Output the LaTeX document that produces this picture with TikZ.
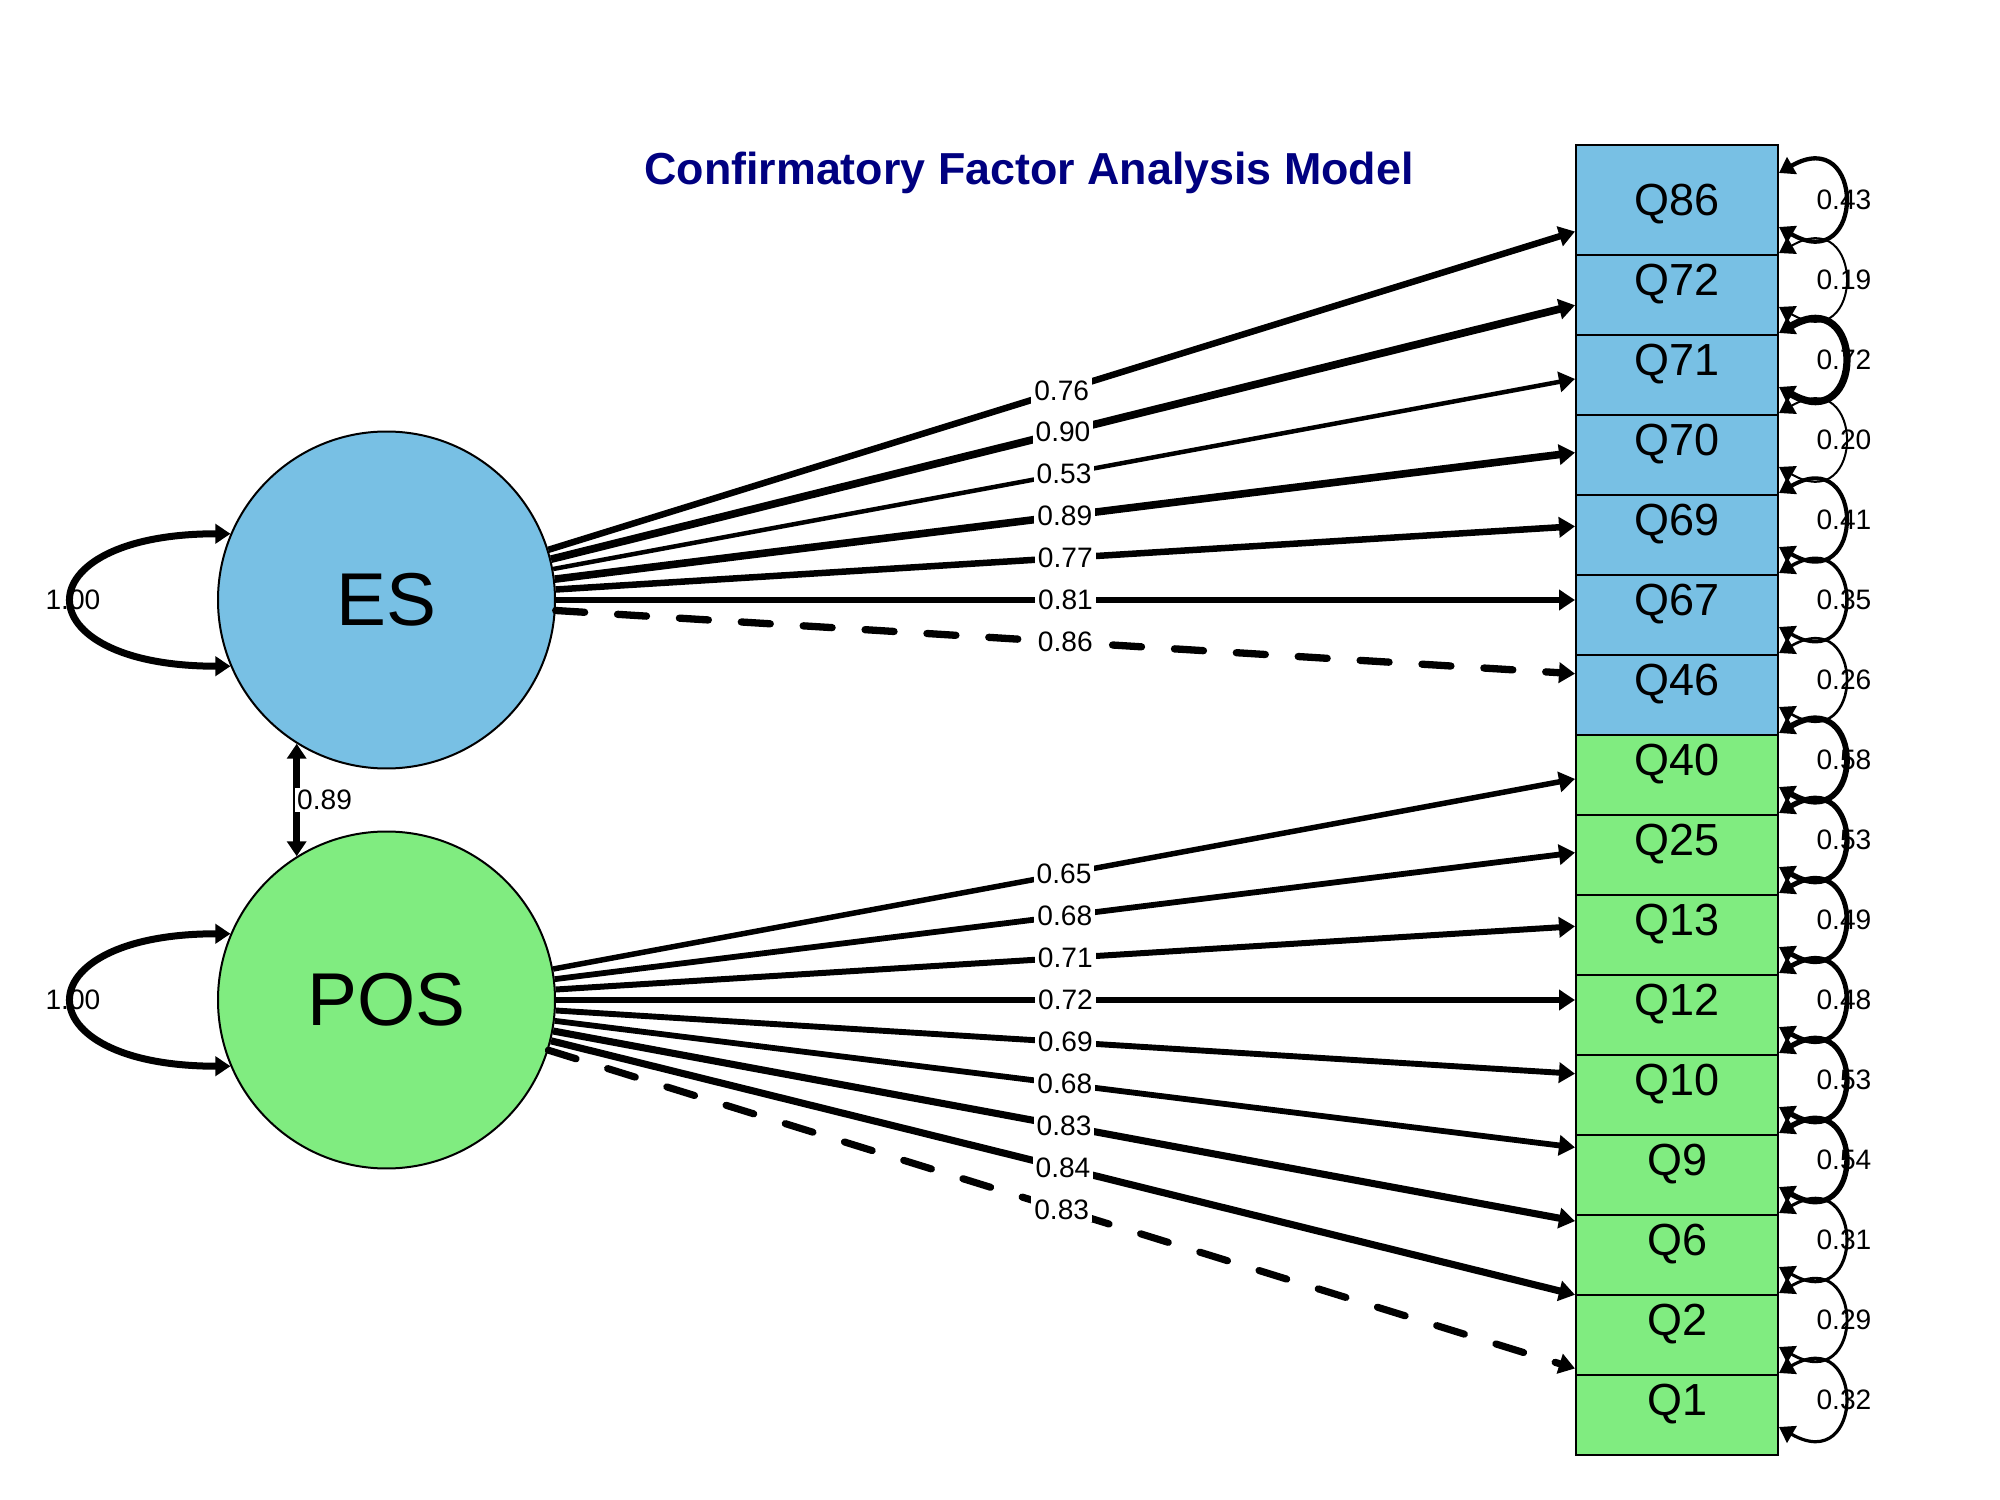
\documentclass[tikz,border=0pt]{standalone}
\usepackage{fontspec}
\setmainfont{Liberation Sans}
\usetikzlibrary{arrows.meta}
\definecolor{esblue}{RGB}{120,192,228}
\definecolor{posgreen}{RGB}{128,236,128}
\definecolor{titlenavy}{RGB}{0,0,128}

\begin{document}
\begin{tikzpicture}[
  x=0.1mm, y=-0.1mm,
  latent/.style={circle, draw, line width=0.2mm, minimum size=33.7mm, inner sep=0pt,
                 font=\fontsize{21.3}{24}\selectfont},
  item/.style={rectangle, draw, line width=0.2mm, minimum width=20.2mm, minimum height=11mm,
               inner sep=0pt, text depth=0pt, font=\fontsize{12.8}{14}\selectfont},
  arrow/.style={-{Triangle[length=1.6mm,width=2mm]}},
  twoway/.style={{Triangle[length=1.5mm,width=1.9mm]}-{Triangle[length=1.5mm,width=1.9mm]}},
  broken/.style={dash pattern=on 2.9mm off 3.3mm, line cap=round},
  lbl/.style={pos=0.5, fill=white, inner sep=0.3mm, font=\fontsize{8}{9}\selectfont},
  vlbl/.style={pos=0.5, inner sep=0pt, font=\fontsize{8}{9}\selectfont}
]
\useasboundingbox (0,0) rectangle (2000,1500);

\node[font=\bfseries\fontsize{12.75}{14}\selectfont, text=titlenavy, text depth=0pt] (title) at (1029,168)
  {Confirmatory Factor Analysis Model};

% latent factors
\node[latent, fill=esblue] (ES) at (386.5,600) {ES};
\node[latent, fill=posgreen] (POS) at (386.5,1000) {POS};

% indicators, lowest first so each upper box lies over the one below
\node[item, fill=posgreen] (Q1) at (1677,1400) {Q1};
\node[item, fill=posgreen] (Q2) at (1677,1320) {Q2};
\node[item, fill=posgreen] (Q6) at (1677,1240) {Q6};
\node[item, fill=posgreen] (Q9) at (1677,1160) {Q9};
\node[item, fill=posgreen] (Q10) at (1677,1080) {Q10};
\node[item, fill=posgreen] (Q12) at (1677,1000) {Q12};
\node[item, fill=posgreen] (Q13) at (1677,920) {Q13};
\node[item, fill=posgreen] (Q25) at (1677,840) {Q25};
\node[item, fill=posgreen] (Q40) at (1677,760) {Q40};
\node[item, fill=esblue] (Q46) at (1677,680) {Q46};
\node[item, fill=esblue] (Q67) at (1677,600) {Q67};
\node[item, fill=esblue] (Q69) at (1677,520) {Q69};
\node[item, fill=esblue] (Q70) at (1677,440) {Q70};
\node[item, fill=esblue] (Q71) at (1677,360) {Q71};
\node[item, fill=esblue] (Q72) at (1677,280) {Q72};
\node[item, fill=esblue] (Q86) at (1677,200) {Q86};

% loadings
\draw[arrow, line width=0.65mm] (ES) -- node[lbl]{0.76} (Q86);
\draw[arrow, line width=0.77mm] (ES) -- node[lbl]{0.90} (Q72);
\draw[arrow, line width=0.45mm] (ES) -- node[lbl]{0.53} (Q71);
\draw[arrow, line width=0.76mm] (ES) -- node[lbl]{0.89} (Q70);
\draw[arrow, line width=0.65mm] (ES) -- node[lbl]{0.77} (Q69);
\draw[arrow, line width=0.69mm] (ES) -- node[lbl]{0.81} (Q67);
\draw[arrow, broken, line width=0.73mm] (ES) -- node[lbl]{0.86} (Q46);
\draw[arrow, line width=0.55mm] (POS) -- node[lbl]{0.65} (Q40);
\draw[arrow, line width=0.58mm] (POS) -- node[lbl]{0.68} (Q25);
\draw[arrow, line width=0.60mm] (POS) -- node[lbl]{0.71} (Q13);
\draw[arrow, line width=0.61mm] (POS) -- node[lbl]{0.72} (Q12);
\draw[arrow, line width=0.59mm] (POS) -- node[lbl]{0.69} (Q10);
\draw[arrow, line width=0.58mm] (POS) -- node[lbl]{0.68} (Q9);
\draw[arrow, line width=0.71mm] (POS) -- node[lbl]{0.83} (Q6);
\draw[arrow, line width=0.71mm] (POS) -- node[lbl]{0.84} (Q2);
\draw[arrow, broken, line width=0.71mm] (POS) -- node[lbl]{0.83} (Q1);

% factor variances and covariance
\draw[twoway, line width=0.7mm] (ES.157) .. controls +(-210,0) and +(-210,0) .. node[vlbl]{1.00} (ES.203);
\draw[twoway, line width=0.7mm] (POS.157) .. controls +(-210,0) and +(-210,0) .. node[vlbl]{1.00} (POS.203);
\draw[twoway, line width=0.7mm] (ES.238) -- node[vlbl, right, fill=white, inner sep=0.2mm, xshift=-0.5mm]{0.89} (POS.122);

% residual variances
\draw[twoway, line width=0.43mm] ([yshift=2.7mm]Q86.east) .. controls +(86.6,-50) and +(86.6,50) .. node[vlbl]{0.43} ([yshift=-2.7mm]Q86.east);
\draw[twoway, line width=0.2mm] ([yshift=2.7mm]Q72.east) .. controls +(86.6,-50) and +(86.6,50) .. node[vlbl]{0.19} ([yshift=-2.7mm]Q72.east);
\draw[twoway, line width=0.72mm] ([yshift=2.7mm]Q71.east) .. controls +(86.6,-50) and +(86.6,50) .. node[vlbl]{0.72} ([yshift=-2.7mm]Q71.east);
\draw[twoway, line width=0.2mm] ([yshift=2.7mm]Q70.east) .. controls +(86.6,-50) and +(86.6,50) .. node[vlbl]{0.20} ([yshift=-2.7mm]Q70.east);
\draw[twoway, line width=0.41mm] ([yshift=2.7mm]Q69.east) .. controls +(86.6,-50) and +(86.6,50) .. node[vlbl]{0.41} ([yshift=-2.7mm]Q69.east);
\draw[twoway, line width=0.35mm] ([yshift=2.7mm]Q67.east) .. controls +(86.6,-50) and +(86.6,50) .. node[vlbl]{0.35} ([yshift=-2.7mm]Q67.east);
\draw[twoway, line width=0.26mm] ([yshift=2.7mm]Q46.east) .. controls +(86.6,-50) and +(86.6,50) .. node[vlbl]{0.26} ([yshift=-2.7mm]Q46.east);
\draw[twoway, line width=0.58mm] ([yshift=2.7mm]Q40.east) .. controls +(86.6,-50) and +(86.6,50) .. node[vlbl]{0.58} ([yshift=-2.7mm]Q40.east);
\draw[twoway, line width=0.53mm] ([yshift=2.7mm]Q25.east) .. controls +(86.6,-50) and +(86.6,50) .. node[vlbl]{0.53} ([yshift=-2.7mm]Q25.east);
\draw[twoway, line width=0.49mm] ([yshift=2.7mm]Q13.east) .. controls +(86.6,-50) and +(86.6,50) .. node[vlbl]{0.49} ([yshift=-2.7mm]Q13.east);
\draw[twoway, line width=0.48mm] ([yshift=2.7mm]Q12.east) .. controls +(86.6,-50) and +(86.6,50) .. node[vlbl]{0.48} ([yshift=-2.7mm]Q12.east);
\draw[twoway, line width=0.53mm] ([yshift=2.7mm]Q10.east) .. controls +(86.6,-50) and +(86.6,50) .. node[vlbl]{0.53} ([yshift=-2.7mm]Q10.east);
\draw[twoway, line width=0.54mm] ([yshift=2.7mm]Q9.east) .. controls +(86.6,-50) and +(86.6,50) .. node[vlbl]{0.54} ([yshift=-2.7mm]Q9.east);
\draw[twoway, line width=0.31mm] ([yshift=2.7mm]Q6.east) .. controls +(86.6,-50) and +(86.6,50) .. node[vlbl]{0.31} ([yshift=-2.7mm]Q6.east);
\draw[twoway, line width=0.29mm] ([yshift=2.7mm]Q2.east) .. controls +(86.6,-50) and +(86.6,50) .. node[vlbl]{0.29} ([yshift=-2.7mm]Q2.east);
\draw[twoway, line width=0.32mm] ([yshift=2.7mm]Q1.east) .. controls +(86.6,-50) and +(86.6,50) .. node[vlbl]{0.32} ([yshift=-2.7mm]Q1.east);
\end{tikzpicture}
\end{document}
